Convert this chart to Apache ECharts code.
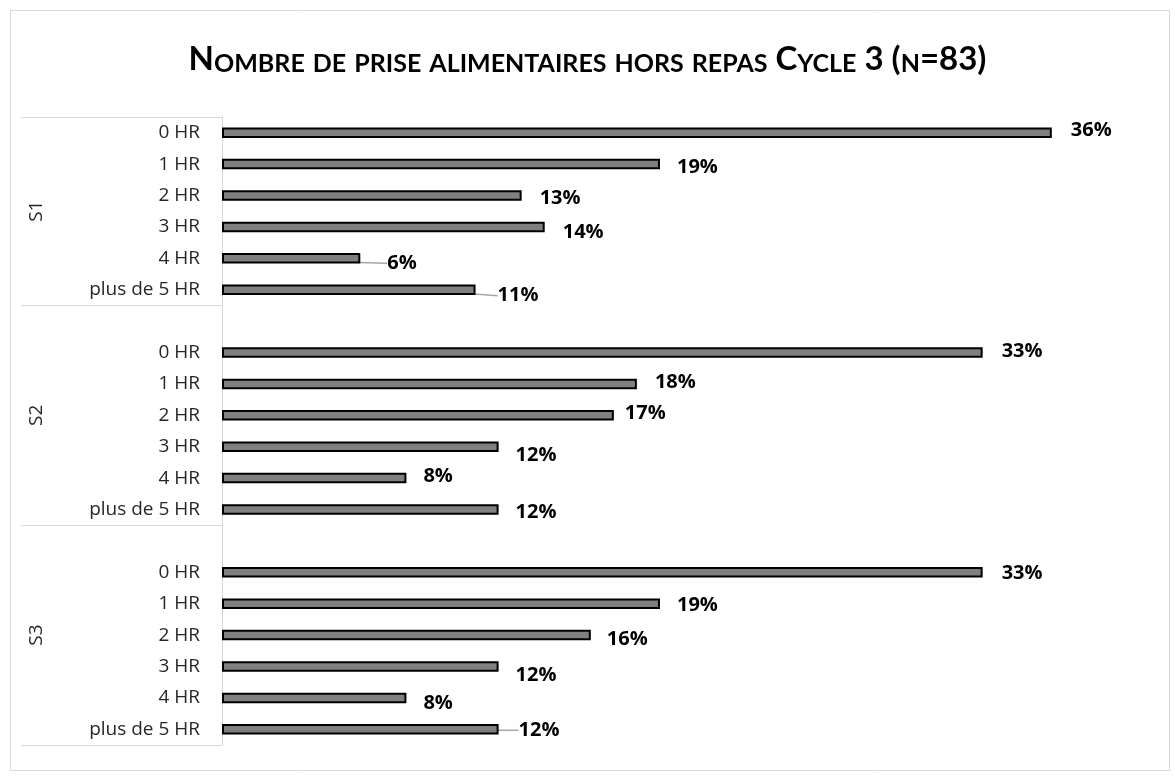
<!DOCTYPE html>
<html>
<head>
<meta charset="utf-8">
<script src="https://cdn.jsdelivr.net/npm/echarts@6/dist/echarts.min.js"></script>
<style>
  html, body { margin: 0; padding: 0; background: #fff; }
  #chart { width: 1175px; height: 776px; }
</style>
</head>
<body>
<div id="chart"></div>
<script>
// data
const titleText = 'Nombre de prise alimentaires hors repas Cycle 3 (n=83)';
const groups = ['S1', 'S2', 'S3'];
const hours = ['0 HR', '1 HR', '2 HR', '3 HR', '4 HR', 'plus de 5 HR'];
const s1 = [36, 19, 13, 14, 6, 11];
const s2 = [33, 18, 17, 12, 8, 12];
const s3 = [33, 19, 16, 12, 8, 12];

// label nudges (Excel labels were dragged by hand) and which ones keep a leader line
const labelNudge = [
  [14, -2], [12, 3], [13, 3], [13, 5], [22, 5], [17, 6],
  [0, 0],
  [14, -1], [13, -2], [6, -2], [12, 9], [12, -2], [12, 3],
  [0, 0],
  [14, 1], [12, 2], [11, 4], [12, 9], [12, 5], [15, 1]
];
const leaderRows = [4, 5, 19];

// Excel multi-level axis: S2 and S3 each start with an empty row
const cats = [];
const vals = [];
const groupSizes = [];
[s1, s2, s3].forEach((arr, g) => {
  let n = 0;
  if (g > 0) { cats.push(''); vals.push(null); n++; }
  arr.forEach((v, i) => { cats.push(hours[i]); vals.push(v); n++; });
  groupSizes.push(n);
});
const bounds = [0];
groupSizes.forEach((n) => bounds.push(bounds[bounds.length - 1] + n));
const mids = groupSizes.map((n, i) => bounds[i] + n / 2);

// small caps title via rich text
function smallCaps(s) {
  let out = '';
  let cur = null;
  let buf = '';
  const flush = () => { if (buf) out += '{' + cur + '|' + buf + '}'; buf = ''; };
  for (const ch of s) {
    const low = ch !== ch.toUpperCase();
    const k = low ? 's' : 'b';
    if (k !== cur) { flush(); cur = k; }
    buf += ch.toUpperCase();
  }
  flush();
  return out;
}

const titleFont = 'Lato, "Open Sans", sans-serif';
const font = '"Open Sans", Lato, sans-serif';
const chart = echarts.init(document.getElementById('chart'));

chart.setOption({
  backgroundColor: '#fff',
  animation: false,
  graphic: [{
    type: 'rect', left: 8, top: 8,
    shape: { width: 1159, height: 760 },
    style: { fill: 'none', stroke: '#d9d9d9', lineWidth: 1 }
  }],
  title: {
    text: smallCaps(titleText),
    left: 'center',
    top: 35,
    textStyle: {
      rich: {
        b: { fontFamily: titleFont, fontWeight: 'bold', fontSize: 33, color: '#000', lineHeight: 36, verticalAlign: 'bottom' },
        s: { fontFamily: titleFont, fontWeight: 'bold', fontSize: 25, color: '#000', lineHeight: 36, verticalAlign: 'bottom' }
      }
    }
  },
  grid: { left: 222, right: 31, top: 117, bottom: 31 },
  xAxis: { type: 'value', min: 0, max: 40, show: false },
  yAxis: [{
    type: 'category',
    data: cats,
    inverse: true,
    axisLine: { show: true, lineStyle: { color: '#d9d9d9', width: 1 } },
    axisTick: { show: false },
    axisLabel: { margin: 22, padding: [3, 0, 0, 0], fontFamily: font, fontSize: 19, color: '#262626', interval: 0 }
  }, {
    type: 'value',
    min: 0,
    max: bounds[bounds.length - 1],
    inverse: true,
    position: 'left',
    splitLine: { show: false },
    axisLine: { show: false },
    axisTick: {
      show: true, inside: false, length: 201,
      customValues: bounds,
      lineStyle: { color: '#d9d9d9', width: 1 }
    },
    axisLabel: {
      customValues: mids,
      formatter: (v) => groups[mids.indexOf(v)] || '',
      rotate: 90,
      margin: 176,
      fontFamily: font, fontSize: 19, color: '#262626'
    }
  }],
  series: [{
    type: 'bar',
    yAxisIndex: 0,
    barWidth: 10.5,
    data: vals.map((v, i) => ({
      value: v,
      labelLine: { show: leaderRows.includes(i), lineStyle: { color: '#a6a6a6', width: 1.5 } }
    })),
    itemStyle: { color: '#808080', borderColor: '#000', borderWidth: 2 },
    label: {
      show: true,
      position: 'right',
      distance: 5,
      formatter: (p) => p.value == null ? '' : p.value + '%',
      fontFamily: font, fontWeight: 'bold', fontSize: 20, color: '#000'
    },
    labelLayout: (p) => {
      const n = labelNudge[p.dataIndex] || [0, 0];
      return { dx: n[0], dy: n[1] };
    }
  }]
});
</script>
</body>
</html>
